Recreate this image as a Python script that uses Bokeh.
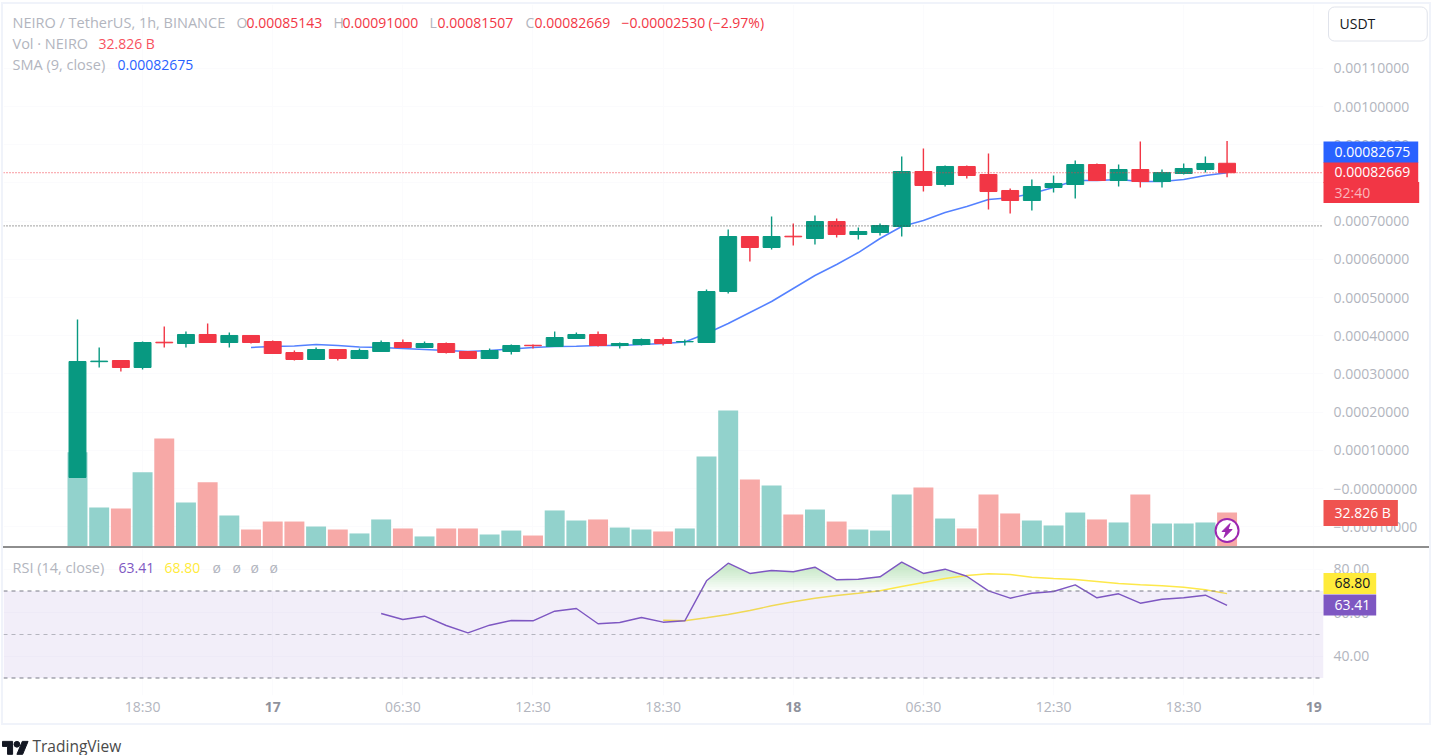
from bokeh.plotting import figure
from bokeh.layouts import column
from bokeh.models import Range1d, FixedTicker, Label, Span, BoxAnnotation, Div
from bokeh.embed import file_html
from bokeh.resources import INLINE
import numpy as np

# Prices are in units of 0.00001 USDT, volume in billions, one candle per hour.
open_ = [2.88,33.20,33.51,31.68,38.30,37.96,40.32,38.22,40.06,38.48,35.60,33.77,36.39,34.03,35.87,38.22,36.91,37.96,35.87,34.03,35.87,37.50,37.18,39.27,40.32,37.44,37.70,39.01,38.40,38.22,51.57,65.97,63.09,66.05,65.45,69.90,66.50,67.02,68.59,82.99,79.59,84.30,82.21,78.02,75.40,78.80,79.59,84.82,80.63,83.51,80.37,82.47,83.51,85.143]
high  = [44.24,36.91,33.51,38.48,42.41,41.10,43.20,40.84,40.06,38.75,36.13,36.91,36.39,36.65,38.75,39.01,38.48,38.22,35.87,36.65,37.70,37.70,41.10,40.84,41.10,38.22,39.27,39.53,39.01,52.10,67.81,65.97,71.21,69.38,71.47,70.69,68.33,69.38,86.92,89.01,84.56,84.56,87.70,78.54,80.90,81.94,85.87,85.09,84.82,90.84,83.51,85.09,86.92,91.00]
low   = [2.88,31.68,30.63,31.15,36.91,36.91,38.22,36.91,37.96,35.34,33.51,33.77,33.51,34.03,35.87,36.91,36.91,35.34,34.03,34.03,35.08,36.65,37.18,39.27,37.18,36.65,37.44,37.44,37.44,38.22,51.05,59.43,62.57,63.62,63.88,65.71,65.19,66.24,65.97,77.75,79.06,81.16,73.04,72.00,72.78,77.49,75.92,80.63,79.06,78.80,78.80,82.21,82.73,81.507]
close = [33.25,33.35,31.68,38.22,38.14,40.32,38.22,40.06,38.22,35.34,33.77,36.39,34.03,36.13,38.22,36.91,37.96,35.60,34.03,36.13,37.44,37.38,39.53,40.32,37.44,37.96,39.01,37.96,38.48,51.57,65.97,63.09,65.97,65.89,69.90,66.50,67.28,68.85,82.99,79.33,84.30,81.94,77.75,75.40,79.06,79.85,84.82,80.63,83.51,80.37,82.73,83.78,85.09,82.669]
volume = [91.0,37.7,36.7,71.7,104.3,42.5,62.1,29.9,16.4,24.1,24.1,19.3,16.4,12.6,26.1,17.4,9.7,17.4,17.4,11.6,15.4,10.6,34.8,25.1,26.1,18.3,16.4,14.5,17.4,86.9,131.3,64.7,58.9,30.9,35.7,24.1,16.4,15.4,50.2,57.0,27.0,17.4,50.2,31.9,25.1,20.3,32.8,26.1,23.2,50.2,22.2,22.2,23.2,32.826]
sma_start = 8
sma = [36.91,37.18,37.31,37.70,37.44,37.05,36.91,36.65,36.39,36.13,35.87,36.13,36.52,36.91,37.18,37.25,37.44,37.44,37.70,37.96,38.35,40.58,43.20,46.08,48.96,52.36,55.76,58.64,61.78,65.45,68.59,70.16,72.26,73.83,75.66,76.10,77.23,78.80,80.63,80.63,80.90,80.37,80.37,80.90,81.94,82.675]
rsi_start = 14
rsi = [59.66,56.90,58.41,54.14,50.78,54.28,56.44,56.30,60.71,61.95,54.92,55.52,57.82,55.66,56.30,74.69,82.78,78.05,79.43,78.83,80.94,75.15,75.43,76.53,83.24,78.05,80.02,76.80,70.09,66.69,68.99,69.77,72.85,66.87,68.71,64.39,66.23,66.87,68.07,63.41]
rsi_ma_start = 27
rsi_ma = [56.57,56.30,57.68,59.20,61.03,63.20,65.03,66.69,67.93,68.99,70.09,72.07,73.91,75.75,77.13,77.91,77.59,76.34,75.75,75.29,74.37,73.45,72.85,72.39,71.75,70.55,68.80]

price_ticks = [110,100,90,80,70,60,50,40,30,20,10,0,-10]
price_labels = ["0.00110000","0.00100000","0.00090000","0.00080000","0.00070000","0.00060000","0.00050000","0.00040000","0.00030000","0.00020000","0.00010000","\u22120.00000000","\u22120.00010000"]
rsi_ticks = [80,60,40]
rsi_labels = ["80.00","60.00","40.00"]
time_ticks = [3,9,15,21,27,33,39,45,51,57]
time_labels = ["18:30","","06:30","12:30","18:30","","06:30","12:30","18:30",""]
date_ticks = [9,33,57]
date_labels = ["17","18","19"]

GREEN, RED = "#089981", "#f23645"
VGREEN, VRED = "#92d2cc", "#f7a9a7"
MUTED = "#b2b5be"
FONT = "Open Sans"
FS = "14px"

# layout helpers (page pixel -> data)
PX0, PXS = 77.0, 21.69
def X(px): return (px - PX0) / PXS
def PY(py): return (488.0 - py) * 0.2618
def RY(py): return 50.0 + (634.0 - py) / 2.175

L, R, TOP, SEP, RB, AX = 3, 1323, 4, 546, 695, 723
W = 1429 - L

n = len(close)
xs = np.arange(n)
up = [c >= o for o, c in zip(open_, close)]
body_col = [GREEN if u else RED for u in up]
vol_col = [VGREEN if u else VRED for u in up]
GRID = "#fbfbfd"

x_range = Range1d(X(L), X(R))
p = figure(width=W, height=SEP - TOP, x_range=x_range, y_range=Range1d(PY(SEP), PY(TOP)),
           x_axis_location=None, y_axis_location="right", toolbar_location=None, output_backend="svg",
           min_border_left=0, min_border_right=1429 - R, min_border_top=0, min_border_bottom=0,
           outline_line_color=None, background_fill_color="white", border_fill_color="white")
p.extra_y_ranges = {"vol": Range1d(0, (SEP - TOP) * 0.9655)}

def style_axis(ax, ticks, labels):
    ax.ticker = FixedTicker(ticks=ticks)
    ax.major_label_overrides = dict(zip(ticks, labels))
    ax.axis_line_color = None
    ax.major_tick_line_color = None
    ax.minor_tick_line_color = None
    ax.major_label_text_color = MUTED
    ax.major_label_text_font = FONT
    ax.major_label_text_font_size = FS

style_axis(p.yaxis[0], price_ticks, price_labels)
p.yaxis[0].major_label_standoff = 4
p.ygrid.ticker = FixedTicker(ticks=price_ticks)
p.ygrid.grid_line_color = GRID
p.xgrid.ticker = FixedTicker(ticks=time_ticks)
p.xgrid.grid_line_color = GRID

p.vbar(x=xs, width=0.92, bottom=0, top=volume, color=vol_col, line_color=None, y_range_name="vol")
p.add_layout(Span(location=close[-1], dimension="width", line_color=RED, line_dash="1 2", line_width=1))
p.add_layout(Span(location=PY(225.4), dimension="width", line_color="#444444", line_dash="1 2", line_width=1))
p.line(x=xs[sma_start:], y=sma, line_color="#2962ff", line_width=1.5, line_alpha=0.8)
p.segment(x0=xs, x1=xs, y0=low, y1=high, line_color=body_col, line_width=1.4)
p.vbar(x=xs, width=0.78, bottom=open_, top=close, fill_color=body_col, line_color=body_col, line_width=1)

Q_TOP = SEP + 2
def lab(fig, px, py, text, color=MUTED, size=FS, style="normal", align="left"):
    top = TOP if fig is p else Q_TOP
    fig.add_layout(Label(x=px - L, y=py - top, x_units="canvas", y_units="canvas", text=text,
                         text_color=color, text_font=FONT, text_font_size=size, text_font_style=style,
                         text_baseline="middle", text_align=align))

# legend rows
T_FS = "14.5px"
lab(p, 12, 22, "NEIRO / TetherUS, 1h, BINANCE", size=T_FS)
for px, t, c in [(236,"O",MUTED),(246,"0.00085143",RED),(333,"H",MUTED),(342,"0.00091000",RED),
                 (429,"L",MUTED),(437,"0.00081507",RED),(525,"C",MUTED),(534,"0.00082669",RED),
                 (621,"\u22120.00002530",RED),(708,"(\u22122.97%)",RED)]:
    lab(p, px, 22, t, c)
lab(p, 12, 43, "Vol \u00b7 NEIRO", size=T_FS)
lab(p, 98, 43, "32.826 B", "#f7525f")
lab(p, 12, 64, "SMA (9, close)", size=T_FS)
lab(p, 117, 64, "0.00082675", "#2962ff")

# volume-pane badge
p.scatter(x=[n - 1], y=[PY(530)], marker="circle", size=23, fill_color="white",
          line_color="#9c27b0", line_width=2)
bolt = [(3,-7),(-5,1),(-1,1),(-3,7),(5,-1),(1,-1)]
p.patch(x=[n - 1 + dx / PXS for dx, _ in bolt], y=[PY(530 + dy) for _, dy in bolt], color="#9c27b0")

sep = Div(width=W, height=2, margin=0, styles={"background": "#8e8e8e"})

# RSI pane
q = figure(width=W, height=AX - SEP - 2, x_range=x_range, y_range=Range1d(RY(RB), RY(SEP + 2)),
           x_axis_location="below", y_axis_location="right", toolbar_location=None, output_backend="svg",
           min_border_left=0, min_border_right=1429 - R, min_border_top=0, min_border_bottom=AX - RB,
           outline_line_color=None, background_fill_color="white", border_fill_color="white")
style_axis(q.yaxis[0], rsi_ticks, rsi_labels)
q.yaxis[0].major_label_standoff = 4
style_axis(q.xaxis[0], time_ticks, time_labels)
q.xaxis[0].major_tick_out = 0
q.xaxis[0].major_tick_in = 0
q.xaxis[0].major_label_standoff = 1
q.ygrid.ticker = FixedTicker(ticks=rsi_ticks)
q.ygrid.grid_line_color = GRID
q.xgrid.ticker = FixedTicker(ticks=time_ticks)
q.xgrid.grid_line_color = GRID

q.add_layout(BoxAnnotation(bottom=30, top=70, fill_color="#7e57c2", fill_alpha=0.1, line_color=None))
rx = np.arange(rsi_start, rsi_start + len(rsi))
fine_x = np.linspace(rx[0], rx[-1], 1500)
fine_r = np.interp(fine_x, rx, rsi)   # only to shade the area above 70
for lvl in range(70, 84):
    q.varea(x=fine_x, y1=lvl, y2=np.maximum(fine_r, lvl), fill_color="#4caf50", fill_alpha=0.028)
for v, a in [(70, 1), (50, 0.5), (30, 1)]:
    q.add_layout(Span(location=v, dimension="width", line_color="#787b86", line_alpha=a, line_dash="4 4", line_width=1))
q.line(x=np.arange(rsi_ma_start, rsi_ma_start + len(rsi_ma)), y=rsi_ma, line_color="#fde84a", line_width=1.4)
q.line(x=rx, y=rsi, line_color="#7e57c2", line_width=1.4)

lab(q, 12, 567, "RSI (14, close)", size=T_FS)
lab(q, 118, 567, "63.41", "#7e57c2")
lab(q, 164, 567, "68.80", "#ffeb3b")
for px in (212, 232, 250, 269):
    lab(q, px, 567, "\u00f8")

frame = column(p, sep, q, spacing=0,
               styles={"border": "2px solid #f0f3fa", "box-sizing": "content-box"})

# brand line
b = figure(width=130, height=26, x_range=Range1d(0, 130), y_range=Range1d(26, 0), x_axis_location=None,
           y_axis_location=None, toolbar_location=None, output_backend="svg", min_border=0,
           outline_line_color=None, border_fill_color="white")
b.grid.visible = False
S, OX, OY = 0.72, 1, 9
b.patch(x=[OX + S*v for v in (14,7,7,0,0,14)], y=[OY + S*v for v in (22,22,11,11,4,4)], color="#131722")
b.patch(x=[OX + S*v for v in (28,20,27.5,35.5)], y=[OY + S*v for v in (22,22,4,4)], color="#131722")
b.scatter(x=[OX + S*20], y=[OY + S*8], size=S*8, color="#131722")
b.add_layout(Label(x=31, y=16, text="TradingView", text_color="#4a4a4a", text_font=FONT,
                   text_font_size="15.5px", text_baseline="middle"))

# transparent layer in page pixels for tags that sit over the scales
o = figure(width=1431, height=730, x_range=Range1d(0, 1431), y_range=Range1d(730, 0), x_axis_location=None,
           y_axis_location=None, toolbar_location=None, output_backend="svg", min_border=0,
           outline_line_color=None, background_fill_color=None, border_fill_color=None,
           styles={"position": "absolute", "left": "0px", "top": "0px"})
o.grid.visible = False

def tag(px, py, text, bg, color="white", pad=(11, 8, 5, 6), border=None, radius=0):
    o.add_layout(Label(x=px, y=py, text=text, text_color=color, text_font=FONT, text_font_size=FS,
                       text_baseline="middle", text_align="left", background_fill_color=bg,
                       border_line_color=border, border_radius=radius, padding=pad))

tag(1323, 172, "0.00082669", RED)
tag(1323, 192, "32:40", RED, color="#fbb6bb", pad=(11, 49, 1, 1))
tag(1323, 151.5, "0.00082675", "#2962ff")
tag(1323, 512.5, "32.826 B", "#ef5350", pad=(11, 7, 3, 4))
tag(1328, 23.5, "USDT", "white", color="#131722", pad=(11, 52, 7, 8), border="#e0e3eb", radius=6)
tag(1323, 583, "68.80", "#ffeb3b", color="#131722", pad=(11, 6, 5, 6))
tag(1323, 604.5, "63.41", "#7e57c2", pad=(11, 6, 5, 6))
for t, s in zip(date_ticks, date_labels):
    o.add_layout(Label(x=PX0 + t * PXS, y=706, text=s, text_color="#8f929c", text_font=FONT,
                       text_font_size=FS, text_font_style="bold", text_baseline="middle", text_align="center"))

root = column(frame, b, spacing=4, styles={"margin-left": "1px", "margin-top": "2px"})
open("out.html", "w").write(file_html([root, o], INLINE))
